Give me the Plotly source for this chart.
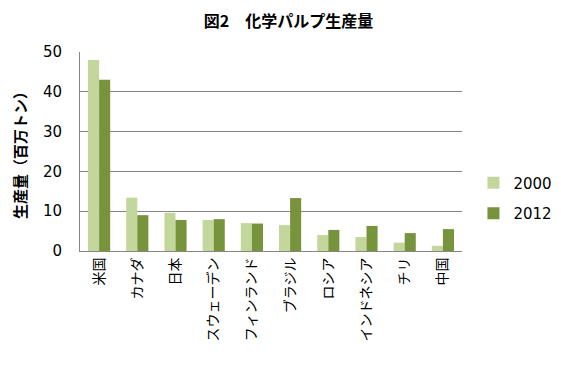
import plotly.graph_objects as go

categories = ["米国", "カナダ", "日本", "スウェーデン", "フィンランド", "ブラジル", "ロシア", "インドネシア", "チリ", "中国"]
values_2000 = [48.0, 13.4, 9.6, 7.8, 7.0, 6.5, 4.0, 3.5, 2.1, 1.3]
values_2012 = [43.0, 9.0, 7.8, 8.0, 6.9, 13.3, 5.3, 6.3, 4.5, 5.5]
series_names = ["2000", "2012"]
y_ticks = [0, 10, 20, 30, 40, 50]

FONT = "DejaVu Sans, Noto Sans CJK JP, sans-serif"
JP = "Noto Sans CJK JP, sans-serif"

fig = go.Figure()
fig.add_trace(go.Bar(x=categories, y=values_2000, name=series_names[0],
                     marker=dict(color="#c3d69b", line=dict(width=0)), legendgroup="a"))
fig.add_trace(go.Bar(x=categories, y=values_2012, name=series_names[1],
                     marker=dict(color="#77933c", line=dict(width=0)), legendgroup="b"))

fig.update_layout(
    width=561, height=365,
    margin=dict(l=65, r=84, t=44, b=122),
    paper_bgcolor="white", plot_bgcolor="white",
    barmode="group", bargap=0.42, bargroupgap=0,
    title=dict(text="<b>図2　化学パルプ生産量</b>", x=0.5, xanchor="center", y=0.962, yanchor="middle",
               font=dict(family=JP, size=16, color="black")),
    font=dict(family=FONT, size=14, color="black"),
    xaxis=dict(tickangle=-90, tickfont=dict(family=JP, size=14, color="black"),
               showline=True, linecolor="#868686", linewidth=1, ticks="", showgrid=False),
    yaxis=dict(range=[0, 50], tickvals=y_ticks, showgrid=True, gridcolor="#868686", gridwidth=1,
               showline=True, linecolor="#868686", linewidth=1, ticks="", zeroline=False,
               tickfont=dict(family=FONT, size=15, color="black"), ticklabelstandoff=14,
               title=dict(text="<b>生産量（百万トン）</b>", font=dict(family=JP, size=15, color="black"), standoff=12)),
    legend=dict(x=1.03, xanchor="left", y=0.266, yanchor="middle",
                font=dict(family=FONT, size=15, color="black"),
                traceorder="grouped", tracegroupgap=8, itemwidth=30),
    showlegend=True,
)

fig.write_html("out.html")
